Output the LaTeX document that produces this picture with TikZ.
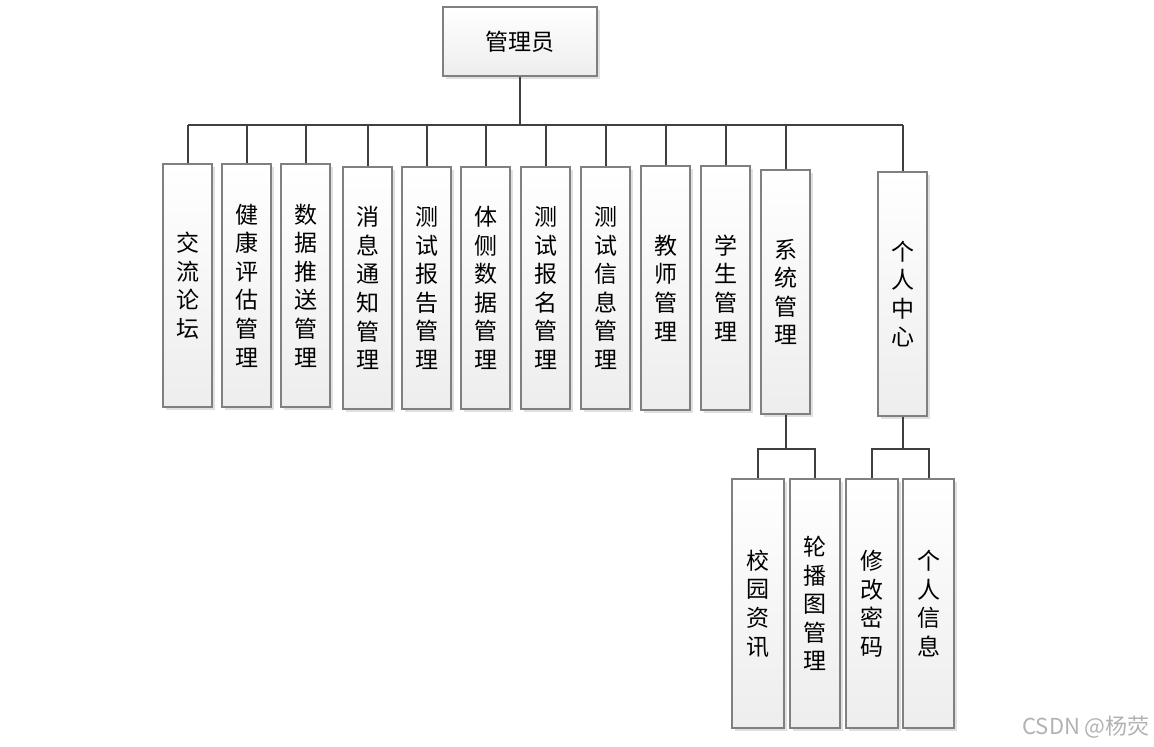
\documentclass[tikz,border=0pt]{standalone}
\usepackage{fontspec}
\setmainfont{Noto Sans CJK SC}
\usetikzlibrary{shadows}
\definecolor{linec}{HTML}{404040}
\definecolor{boxc}{HTML}{808080}
\tikzset{
  box/.style={draw=boxc, line width=1.2pt, top color=white, bottom color=black!7,
    drop shadow={shadow xshift=3pt, shadow yshift=-3pt, fill=black!12, opacity=1},
    inner sep=0pt, align=center, text=black,
    font=\fontsize{23}{28.6}\selectfont},
  vbox/.style={box, minimum width=49pt, minimum height=243pt},
  lbox/.style={box, minimum width=51pt, minimum height=249pt},
  conn/.style={draw=linec, line width=2pt},
}
\begin{document}
\begin{tikzpicture}[x=1pt,y=-1pt]
\useasboundingbox (0,0) rectangle (1154,747);
\node[box, minimum width=154pt, minimum height=69pt] (top) at (520,41.5) {管理员};
\node[vbox] (n1) at (187.5,285.5) {交\\流\\论\\坛};
\node[vbox] (n2) at (246.5,285.5) {健\\康\\评\\估\\管\\理};
\node[vbox] (n3) at (305.5,285.5) {数\\据\\推\\送\\管\\理};
\node[vbox, minimum height=242pt] (n4) at (367.5,288) {消\\息\\通\\知\\管\\理};
\node[vbox, minimum height=242pt] (n5) at (426.5,288) {测\\试\\报\\告\\管\\理};
\node[vbox, minimum height=242pt] (n6) at (485.5,288) {体\\侧\\数\\据\\管\\理};
\node[vbox, minimum height=242pt] (n7) at (545.5,288) {测\\试\\报\\名\\管\\理};
\node[vbox, minimum height=242pt] (n8) at (605.5,288) {测\\试\\信\\息\\管\\理};
\node[vbox, minimum height=244pt] (n9) at (665.5,288) {教\\师\\管\\理};
\node[vbox, minimum height=244pt] (n10) at (725.5,288) {学\\生\\管\\理};
\node[vbox, minimum height=244pt] (n11) at (785.5,292) {系\\统\\管\\理};
\node[vbox, minimum height=244pt] (n12) at (902.5,294) {个\\人\\中\\心};
\node[lbox, minimum width=52pt] (c1) at (758,603.5) {校\\园\\资\\讯};
\node[lbox, minimum width=50pt] (c2) at (815,603.5) {轮\\播\\图\\管\\理};
\node[lbox, minimum width=52pt] (c3) at (872,603.5) {修\\改\\密\\码};
\node[lbox, minimum width=51pt] (c4) at (928.5,603.5) {个\\人\\信\\息};
\coordinate (bus) at (0,125);
\coordinate (b1) at (0,449);
\draw[conn] (top.south) -- (top.south |- bus);
\draw[conn] (n1.north |- bus) -- (n12.north |- bus);
\foreach \n in {n1,n2,n3,n4,n5,n6,n7,n8,n9,n10,n11,n12}
  \draw[conn] (\n.north) -- (\n.north |- bus);
\draw[conn] (n11.south) -- (n11.south |- b1);
\draw[conn] (c1.north) -- (c1.north |- b1) -| (c2.north);
\draw[conn] (n12.south) -- (n12.south |- b1);
\draw[conn] (c3.north) -- (c3.north |- b1) -| (c4.north);
\node[anchor=east, text=black!30, font=\fontsize{22}{24}\selectfont, inner sep=0pt] (wm) at (1150,727) {CSDN @杨荧};
\end{tikzpicture}
\end{document}
